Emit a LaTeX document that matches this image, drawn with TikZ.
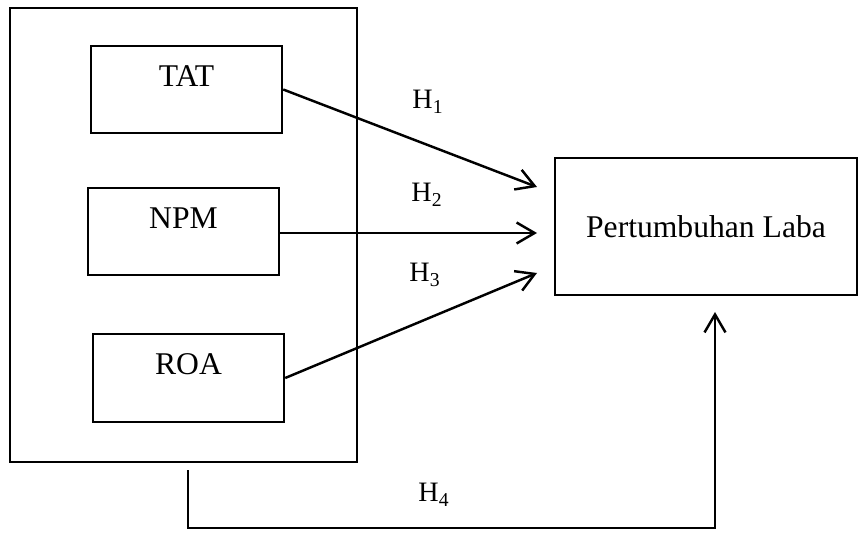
\documentclass[tikz,border=0pt]{standalone}
\usepackage{fontspec}
\setmainfont{Liberation Serif}
\usetikzlibrary{arrows.meta,calc}

\begin{document}
\begin{tikzpicture}[x=0.02cm, y=-0.02cm,
    varbox/.style={draw, line width=1.4pt, minimum width=3.82cm, minimum height=1.74cm, inner sep=0pt},
    boxtext/.style={font=\fontsize{18}{21}\selectfont, yshift=0.27cm},
    hyplabel/.style={font=\fontsize{16}{19}\selectfont},
    arr/.style={line width=1.4pt, -{Straight Barb[length=0.36cm, width=0.42cm, line width=1.4pt]}}]
    % Frame
    \useasboundingbox (0,0) rectangle (858,533);

    % Independent variables
    \node[varbox, minimum width=6.94cm, minimum height=9.08cm] (group) at (183.5,235) {};
    \node[varbox, label={[boxtext, name=tattext]center:TAT}] (tat) at (186.5,89.5) {};
    \node[varbox, label={[boxtext, name=npmtext]center:NPM}] (npm) at (183.5,231.5) {};
    \node[varbox, minimum height=1.76cm, label={[boxtext, name=roatext]center:ROA}] (roa) at (188.5,378) {};

    % Dependent variable
    \node[varbox, minimum width=6.04cm, minimum height=2.74cm, font=\fontsize{18}{21}\selectfont] (labs) at (706,226.5) {Pertumbuhan Laba};

    % Arrow end points
    \coordinate (in1) at (537,187);
    \coordinate (in2) at (537,233);
    \coordinate (in3) at (537,273);
    \coordinate (h4start) at (188,470);
    \coordinate (h4end) at (715,312);

    % Partial hypotheses
    \draw[arr] (tat.east) -- (in1);
    \draw[arr] (npm.east |- in2) -- (in2);
    \draw[arr] (roa.east) -- (in3);

    % Simultaneous hypothesis
    \draw[arr] (h4start) -- (188,528) -- (715,528) -- (h4end);

    % Labels
    \node[hyplabel] (h1) at (428,102) {H\textsubscript{1}};
    \node[hyplabel] (h2) at (427,195) {H\textsubscript{2}};
    \node[hyplabel] (h3) at (425,275) {H\textsubscript{3}};
    \node[hyplabel] (h4) at (434,495) {H\textsubscript{4}};
\end{tikzpicture}
\end{document}
